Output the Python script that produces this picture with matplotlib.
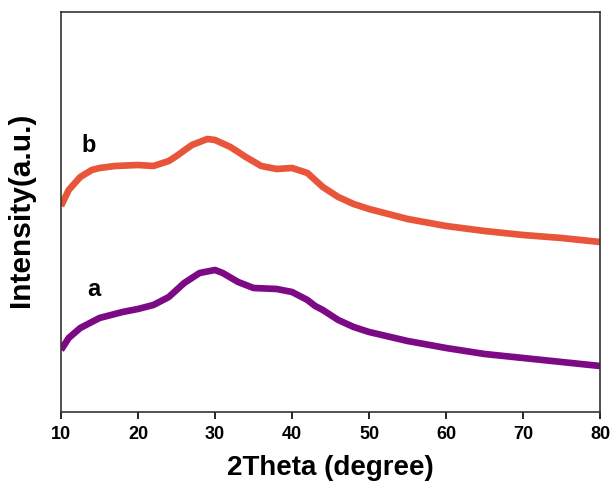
import matplotlib
matplotlib.use("Agg")
import matplotlib.pyplot as plt

plt.rcParams['font.family'] = ['Liberation Sans', 'DejaVu Sans']

# 2theta positions (degree)
theta_b = [10, 11, 12.5, 14, 15, 17, 20, 22, 24, 25, 27, 29, 30, 32, 34, 36, 38, 40, 42, 43, 44, 46, 48, 50, 55, 60, 65, 70, 75, 80]
# intensity of curve b (arbitrary units)
intensity_b = [206, 190, 177, 170, 168, 166, 165, 166, 161, 156, 145, 139, 140, 147, 157, 166, 169, 168, 173, 180, 187, 197, 204, 209, 219, 226, 231, 235, 238, 242]

theta_a = [10, 11, 12.5, 15, 18, 20, 22, 24, 26, 28, 30, 31, 33, 35, 38, 40, 42, 43, 44, 46, 48, 50, 55, 60, 65, 70, 75, 80]
intensity_a = [350, 338, 328, 318, 312, 309, 305, 297, 283, 273, 270, 273, 282, 288, 289, 292, 300, 306, 310, 320, 327, 332, 341, 348, 354, 358, 362, 366]

labels = ['a', 'b']
xticks = [10, 20, 30, 40, 50, 60, 70, 80]

fig = plt.figure(figsize=(6.12, 4.84), dpi=100)
ax = fig.add_axes([0.0997, 0.1488, 0.8807, 0.8264])

ax.plot(theta_b, [412 - v for v in intensity_b], color='#E8553A', lw=4.8,
        solid_joinstyle='round', solid_capstyle='butt')
ax.plot(theta_a, [412 - v for v in intensity_a], color='#7D0A85', lw=4.8,
        solid_joinstyle='round', solid_capstyle='butt')

ax.text(14.3, 412 - 290, labels[0], fontsize=17, fontweight='bold', ha='center', va='center')
ax.text(13.6, 412 - 146, labels[1], fontsize=17, fontweight='bold', ha='center', va='center')

ax.set_xlim(10, 80)
ax.set_ylim(0, 400)
ax.set_xticks(xticks)
ax.set_xticklabels([str(t) for t in xticks], fontsize=13, fontweight='bold')
ax.set_yticks([])
ax.tick_params(axis='x', direction='out', length=5, width=1.2, pad=5)
for s in ax.spines.values():
    s.set_linewidth(1.2)
    s.set_color('#333333')

ax.set_xlabel('2Theta (degree)', fontsize=20, fontweight='bold', labelpad=9)
ax.set_ylabel('Intensity(a.u.)', fontsize=21.5, fontweight='bold')
ax.yaxis.set_label_coords(-0.048, 0.505)

fig.savefig('out.png', dpi=100)
